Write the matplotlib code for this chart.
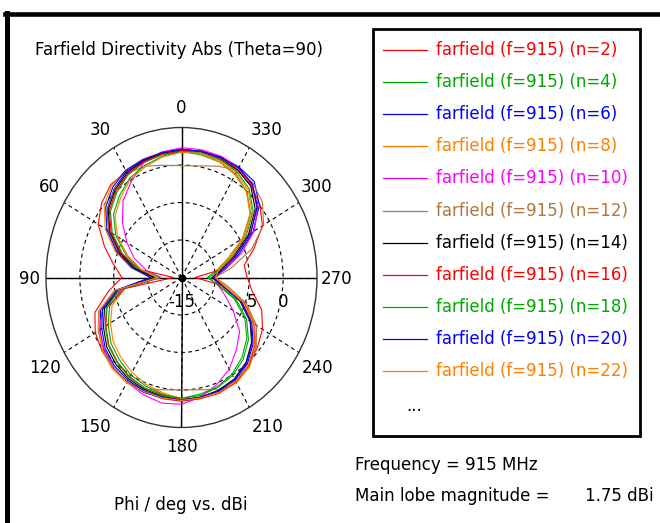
import numpy as np
import matplotlib
matplotlib.use('Agg')
import matplotlib.pyplot as plt
from matplotlib.patches import Rectangle
from matplotlib.lines import Line2D

plt.rcParams['font.family'] = ['DejaVu Sans']

# ---------------- data ----------------
phi_deg = np.arange(0, 360, 10)          # Phi / deg (ccw from top)

n2 = [1.8, 1.7, 1.5, 1.3, 1.2, 0.4, -0.8, -2.9, -4.8, -6.2,
      -4.0, -1.4, -0.3, 0.3, 0.7, 1.0, 1.2, 1.4, 1.5, 1.4,
      1.2, 0.9, 0.4, -0.4, -1.2, -2.4, -4.4, -5.3, -5.6, -3.6,
      -1.2, 0.1, 1.0, 1.5, 1.7, 1.8]
n4 = [1.8, 1.6, 1.3, 0.8, -0.15, -1.3, -3.2, -5.7, -8.3, -11.5,
      -6.1, -3.7, -2.5, -1.4, -0.7, 0.0, 0.4, 0.8, 1.1, 1.0,
      0.6, 0.1, -0.8, -2.1, -3.9, -6.4, -9.5, -11.2, -9.7, -7.7,
      -4.5, -1.7, 0.0, 0.9, 1.4, 1.6]
n6 = [2.1, 1.9, 1.6, 1.3, 0.45, -0.7, -2.6, -5.1, -7.8, -10.8,
      -5.0, -2.3, -1.1, 0.0, 0.7, 1.1, 1.3, 1.3, 1.4, 1.3,
      1.2, 0.8, 0.1, -1.2, -3.0, -5.5, -8.8, -10.2, -8.4, -6.0,
      -2.8, 0.0, 1.7, 2.0, 2.1, 2.1]
n8 = [1.9, 1.9, 1.8, 1.5, 1.0, -0.1, -2.0, -4.5, -7.4, -10.5,
      -6.5, -4.1, -2.9, -1.8, -1.1, -0.4, 0.2, 0.6, 1.2, 1.3,
      1.3, 1.2, 0.6, -0.7, -2.5, -5.0, -8.4, -10.0, -9.8, -7.8,
      -4.6, -1.8, -0.1, 0.8, 1.4, 1.7]
n10 = [2.3, 2.0, 1.3, -0.2, -1.6, -3.6, -5.7, -7.6, -9.8, -12.0,
       -6.0, -2.6, -1.0, -0.1, 0.6, 1.1, 1.6, 2.0, 1.9, 1.2,
       0.2, -0.9, -2.4, -3.8, -6.2, -8.2, -9.6, -10.2, -8.4, -5.6,
       -2.6, -0.3, 1.1, 1.9, 2.2, 2.3]
n12 = [-0.1, 0.2, 0.8, 1.0, 0.4, -0.8, -2.6, -5.0, -8.0, -11.0,
       -5.0, -2.0, -0.8, 0.1, 0.7, 1.0, 0.9, 0.2, 0.0, 0.2,
       0.9, 1.0, 0.4, -0.6, -2.2, -4.8, -8.0, -10.0, -7.5, -4.0,
       -1.0, 0.6, 1.4, 1.5, 0.8, 0.1]
n14 = [2.0, 1.8, 1.5, 1.1, 0.25, -0.9, -2.8, -5.3, -8.0, -11.0,
       -5.5, -2.9, -1.7, -0.6, 0.1, 0.6, 0.9, 1.1, 1.3, 1.2,
       1.0, 0.6, -0.2, -1.5, -3.3, -5.8, -9.0, -10.5, -9.0, -6.8,
       -3.6, -0.8, 0.9, 1.6, 1.9, 2.0]
n16 = [1.9, 1.7, 1.4, 0.9, 0.05, -1.1, -3.0, -5.5, -8.6, -13.8,
       -6.5, -3.3, -2.1, -1.0, -0.3, 0.3, 0.7, 0.9, 1.3, 1.4,
       1.4, 1.1, 0.4, -0.9, -2.7, -5.2, -9.0, -13.0, -9.4, -6.5,
       -3.3, -0.5, 1.2, 1.8, 2.0, 2.1]
n18 = [1.8, 1.4, 0.9, 0.3, -0.75, -1.9, -3.8, -6.3, -8.8, -11.8,
       -5.7, -3.2, -2.0, -0.9, -0.2, 0.4, 0.7, 1.0, 1.1, 0.8,
       0.5, -0.1, -1.1, -2.4, -4.2, -6.7, -9.7, -11.0, -9.3, -7.2,
       -4.0, -1.2, 0.5, 1.3, 1.7, 1.8]
n20 = [2.1, 1.9, 1.7, 1.5, 0.75, -0.4, -2.3, -4.8, -7.6, -10.4,
       -5.3, -2.6, -1.4, -0.3, 0.4, 0.8, 1.1, 1.2, 1.4, 1.2,
       1.1, 0.7, -0.1, -1.4, -3.2, -5.7, -8.9, -10.2, -8.7, -6.4,
       -3.2, -0.4, 1.3, 1.9, 2.0, 2.1]
n22 = [1.7, 1.3, 0.7, 0.1, -1.05, -2.2, -4.1, -6.6, -9.0, -11.5,
       -4.9, -2.1, -0.9, 0.2, 0.9, 1.2, 1.2, 1.3, 1.4, 1.3,
       1.3, 1.0, 0.3, -1.0, -2.8, -5.3, -8.6, -10.0, -9.5, -7.4,
       -4.2, -1.4, 0.3, 1.1, 1.5, 1.8]

series_n = [2, 4, 6, 8, 10, 12, 14, 16, 18, 20, 22]
series_vals = [n2, n4, n6, n8, n10, n12, n14, n16, n18, n20, n22]
series_colors = ['#FF0000', '#00A800', '#0000FF', '#FF8000', '#FF00FF',
                 '#B07840', '#000000', '#FF0000', '#00A800', '#0000FF', '#FF8000']

angle_ticks = [0, 30, 60, 90, 120, 150, 180, 210, 240, 270, 300, 330]
angle_labels = ['0', '30', '60', '90', '120', '150', '180', '210', '240', '270', '300', '330']
# label offsets from the outer ring, in pixels (right, down)
angle_label_dx = [0, -14, -15, -16, -19, -18.5, 0, 18.5, 19, 20, 18, 17.5]
angle_label_dy = [-19.5, -17.5, -15.5, 1.5, 15.5, 19.5, 19.5, 19.5, 15.5, 1.5, -15.5, -17.5]
r_min, r_max = -15, 5
ring_values = [-10, -5, 0]
r_label_values = [-15, -5, 0]
r_label_texts = ['-15', '-5', '0']

title = 'Farfield Directivity Abs (Theta=90)'
xlabel = 'Phi / deg vs. dBi'
freq_text = 'Frequency = 915 MHz'
lobe_text = 'Main lobe magnitude ='
lobe_val = '1.75 dBi'

# ---------------- figure ----------------
W, H = 660, 523
fig = plt.figure(figsize=(W / 100, H / 100), dpi=100)
fig.patch.set_facecolor('white')

def fx(px):
    return px / W

def fy(py):
    return 1 - py / H

cx, cy, rx, ry = 181.5, 277.5, 135.5, 150.0
ax = fig.add_axes([fx(cx - rx), fy(cy + ry), 2 * rx / W, 2 * ry / H], projection='polar')
ax.set_aspect('auto')
ax.set_theta_zero_location('N')
ax.set_theta_direction(1)
ax.set_ylim(r_min, r_max)

dash = (0, (3.5, 3))
ax.set_yticks(ring_values)
ax.set_yticklabels([])
ax.yaxis.grid(True, color='black', linestyle=dash, linewidth=0.8)
ax.set_xticks(np.deg2rad(angle_ticks))
ax.set_xticklabels([])
ax.xaxis.grid(True, color='black', linestyle=dash, linewidth=0.8)
ax.spines['polar'].set_color('#333333')
ax.spines['polar'].set_linewidth(1.0)

for a, lab, dx, dy in zip(angle_ticks, angle_labels, angle_label_dx, angle_label_dy):
    ax.annotate(lab, xy=(np.deg2rad(a), r_max), xytext=(dx * 0.72, -dy * 0.72),
                textcoords='offset points', ha='center', va='center', fontsize=12,
                annotation_clip=False)

# solid cross axes
for a in [0, 90, 180, 270]:
    ax.plot([np.deg2rad(a)] * 2, [r_min, r_max], color='black', lw=1.0, zorder=2)

for r, t in zip(r_label_values, r_label_texts):
    ax.annotate(t, xy=(np.deg2rad(270), r), xytext=(0, -17.5), textcoords='offset points',
                ha='center', va='center', fontsize=12, zorder=1.5, annotation_clip=False)

th = np.deg2rad(np.append(phi_deg, phi_deg[0]))
for vals, col in zip(series_vals, series_colors):
    v = np.append(vals, vals[0])
    ax.plot(th, v, color=col, lw=0.8, zorder=3)

ax.plot([0], [r_min], 'o', ms=4.5, mfc='black', mec='black', zorder=4)

# ---------------- frame ----------------
fig.add_artist(Line2D([fx(5), fx(W + 5)], [fy(14.2), fy(14.2)], color='black', lw=3.3,
                      transform=fig.transFigure))
fig.add_artist(Line2D([fx(7.2), fx(7.2)], [fy(12.5), fy(H + 5)], color='black', lw=3.6,
                      transform=fig.transFigure))

fig.text(fx(35), fy(50), title, ha='left', va='center', fontsize=12)

# ---------------- legend ----------------
fig.add_artist(Rectangle((fx(373.3), fy(436)), (640 - 373.3) / W, (436 - 29.3) / H,
                         fill=False, edgecolor='black', lw=2.0, transform=fig.transFigure))
row0, row_step = 50.0, 32.1
for i, (n, col) in enumerate(zip(series_n, series_colors)):
    y = row0 + i * row_step
    fig.add_artist(Line2D([fx(383), fx(427)], [fy(y), fy(y)], color=col, lw=0.9,
                          transform=fig.transFigure))
    fig.text(fx(436), fy(y), f'farfield (f=915) (n={n})', ha='left', va='center',
             fontsize=12, color=col)
fig.text(fx(414), fy(406), '...', ha='center', va='center', fontsize=12)

fig.text(fx(355), fy(465), freq_text, ha='left', va='center', fontsize=12)
fig.text(fx(355), fy(496), lobe_text, ha='left', va='center', fontsize=12)
fig.text(fx(585), fy(496), lobe_val, ha='left', va='center', fontsize=12)
fig.text(fx(181), fy(505), xlabel, ha='center', va='center', fontsize=12)

fig.savefig('out.png', dpi=100, facecolor='white')
